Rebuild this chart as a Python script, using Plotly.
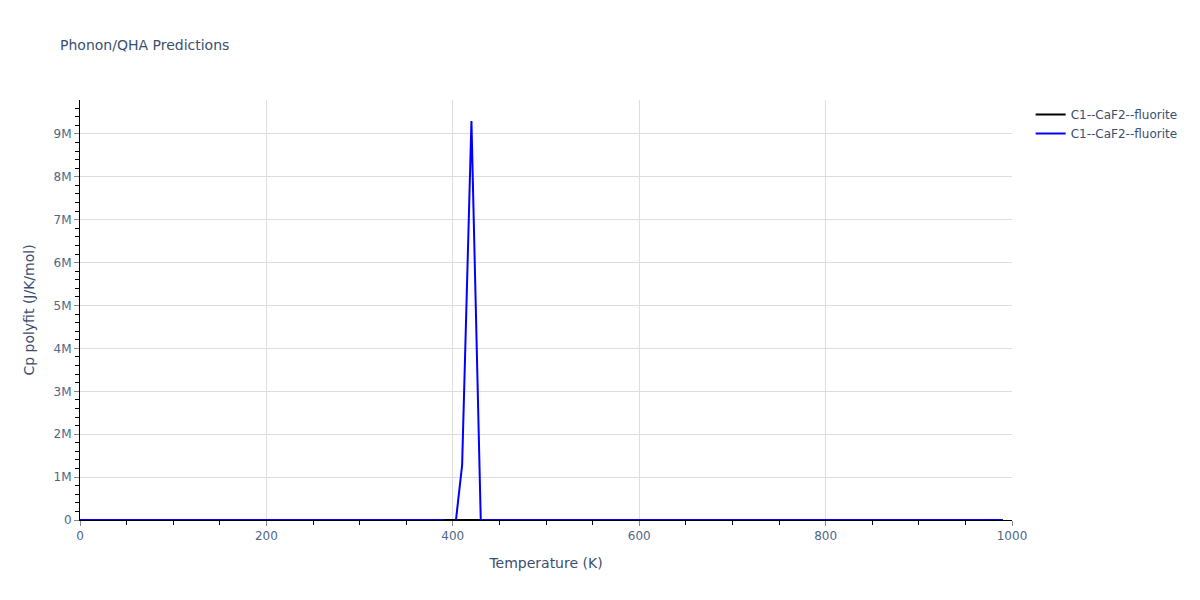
import plotly.graph_objects as go

temperature = list(range(0, 1000, 10))

cp_black = [
    0.0, 0.06, 0.5, 1.8, 4.2, 7.5, 11.2, 15.0, 18.8, 22.4,
    25.8, 29.0, 31.9, 34.6, 37.0, 39.3, 41.3, 43.1, 44.8, 46.3,
    47.7, 49.0, 50.1, 51.2, 52.1, 53.0, 53.8, 54.6, 55.3, 55.9,
    56.5, 57.1, 57.6, 58.1, 58.5, 59.0, 59.4, 59.8, 60.1, 60.5,
    60.8, 61.1, 61.4, 61.7, 62.0, 62.2, 62.5, 62.7, 62.9, 63.2,
    63.4, 63.6, 63.8, 64.0, 64.2, 64.4, 64.6, 64.8, 65.0, 65.2,
    65.4, 65.6, 65.8, 66.0, 66.2, 66.4, 66.6, 66.8, 67.0, 67.2,
    67.4, 67.6, 67.8, 68.0, 68.2, 68.4, 68.6, 68.8, 69.0, 69.2,
    69.4, 69.6, 69.8, 70.0, 70.2, 70.4, 70.6, 70.8, 71.0, 71.2,
    71.4, 71.6, 71.8, 72.0, 72.2, 72.4, 72.6, 72.8, 73.0, 73.2,
]

cp_blue = [
    0.0, 0.06, 0.5, 1.8, 4.2, 7.5, 11.2, 15.0, 18.8, 22.4,
    25.8, 29.0, 31.9, 34.6, 37.0, 39.3, 41.3, 43.1, 44.8, 46.3,
    47.7, 49.0, 50.1, 51.2, 52.1, 53.0, 53.8, 54.6, 55.3, 55.9,
    56.5, 57.1, 57.6, 58.1, 58.5, 59.0, 59.4, 59.8, 60.1, 60.5,
    -660000.0, 1280000.0, 9300000.0, 62.0, 62.2, 62.5, 62.7, 62.9, 63.1, 63.3,
    63.5, 63.7, 63.9, 64.1, 64.3, 64.5, 64.7, 64.9, 65.1, 65.3,
    65.5, 65.7, 65.9, 66.1, 66.3, 66.5, 66.7, 66.9, 67.1, 67.3,
    67.5, 67.7, 67.9, 68.1, 68.3, 68.5, 68.7, 68.9, 69.1, 69.3,
    69.5, 69.7, 69.9, 70.1, 70.3, 70.5, 70.7, 70.9, 71.1, 71.3,
    71.5, 71.7, 71.9, 72.1, 72.3, 72.5, 72.7, 72.9, 73.1, 73.3,
]

series_name = "C1--CaF2--fluorite"

fig = go.Figure()
fig.add_trace(go.Scatter(x=temperature, y=cp_black, mode="lines", name=series_name,
                         line=dict(color="black", width=2)))
fig.add_trace(go.Scatter(x=temperature, y=cp_blue, mode="lines", name=series_name,
                         line=dict(color="blue", width=2)))

axis_common = dict(
    showline=True, linecolor="black", linewidth=1,
    ticks="outside", tickcolor="#888", ticklen=5,
    showgrid=True, gridcolor="#dddddd", zeroline=False,
    tickfont=dict(color="#506784"),
)

fig.update_layout(
    width=1200, height=600,
    font=dict(family="DejaVu Sans, Verdana, sans-serif", size=12, color="#3a4f6f"),
    title=dict(text="Phonon/QHA Predictions", x=0.05, font=dict(size=14)),
    plot_bgcolor="white", paper_bgcolor="white",
    xaxis=dict(title="Temperature (K)", range=[0, 1000], dtick=200,
               minor=dict(ticks="outside", dtick=50, ticklen=4, tickcolor="black", showgrid=False),
               **axis_common),
    yaxis=dict(title="Cp polyfit (J/K/mol)", range=[0, 9.79e6], dtick=1e6,
               minor=dict(ticks="outside", dtick=2e5, ticklen=4, tickcolor="black", showgrid=False),
               **axis_common),
    margin=dict(l=80, r=188, t=100, b=80),
)

fig.write_html("out.html", config={"displayModeBar": False},
               post_script="document.body.style.margin='0';document.body.style.padding='0';")
